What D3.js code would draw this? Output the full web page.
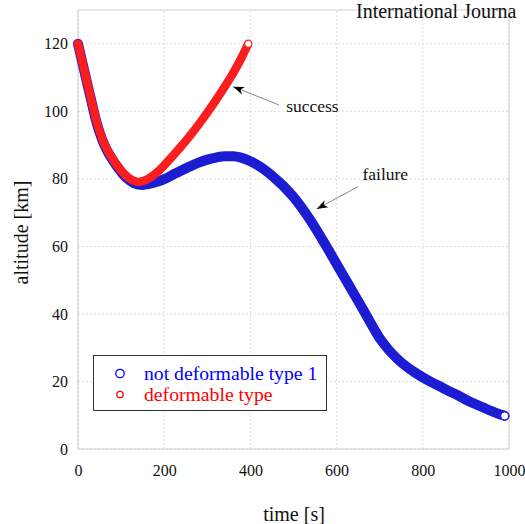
<!DOCTYPE html>
<html>
<head>
<meta charset="utf-8">
<script src="https://cdn.jsdelivr.net/npm/d3@7/dist/d3.min.js"></script>
<style>
  html, body { margin: 0; padding: 0; background: #fff; }
  svg { display: block; }
  text { font-family: "Liberation Serif", "Times New Roman", serif; fill: #111; }
</style>
</head>
<body>
<svg id="chart" width="525" height="524"></svg>
<script>
// ---- data ----
const timeBlue = [0,10,20,30,40,50,60,70,80,90,100,110,120,130,140,150,160,180,200,220,240,260,280,300,320,340,360,380,400,420,440,460,480,500,520,540,560,580,600,620,640,660,680,700,720,740,760,780,800,820,840,860,880,900,920,940,960,980,990];
const altBlue  = [120,114.5,109.0,103.6,98.2,93.8,90.4,87.8,85.7,83.8,82.1,80.6,79.5,78.7,78.3,78.2,78.4,79.0,79.9,81.2,82.5,83.7,84.8,85.7,86.3,86.7,86.7,86.2,85.2,83.8,82.0,79.8,77.4,74.6,71.3,67.6,63.5,59.2,54.8,50.4,46.0,41.6,37.1,32.8,29.5,26.8,24.6,22.8,21.2,19.8,18.5,17.2,16.0,14.6,13.4,12.3,11.2,10.2,9.8];

const timeRed = [0,10,20,30,40,50,60,70,80,90,100,110,120,130,140,150,160,170,180,190,200,220,240,260,280,300,320,340,360,380,395];
const altRed  = [120,114.6,109.2,103.8,98.5,94.1,90.7,88.1,86.0,84.1,82.5,81.1,80.1,79.4,79.1,79.3,79.8,80.6,81.6,82.7,84.0,86.8,89.7,92.8,96.1,99.6,103.3,107.2,111.3,116.0,120.0];

const seriesNames = ["not deformable type 1", "deformable type"];
const xTicks = [0,200,400,600,800,1000];
const yTicks = [0,20,40,60,80,100,120];

const annotations = [
  { label: "success", tip: [360, 107.3], tail: [466, 101.9], at: [483, 99.9] },
  { label: "failure", tip: [554, 71.1], tail: [650, 77.7], at: [660, 79.7] }
];

// ---- layout ----
const svg = d3.select("#chart");
const m = { left: 78, right: 509, top: 10, bottom: 449 };
const x = d3.scaleLinear().domain([0, 1000]).range([m.left, m.right]);
const y = d3.scaleLinear().domain([0, 130]).range([m.bottom, m.top]);

// grid
const grid = svg.append("g");
grid.selectAll("line.vx").data(xTicks).join("line")
  .attr("x1", d => x(d)).attr("x2", d => x(d))
  .attr("y1", y(0)).attr("y2", y(130))
  .attr("stroke", "#dcdcdc").attr("stroke-width", 1).attr("stroke-dasharray", "2,2");
grid.selectAll("line.hy").data(yTicks).join("line")
  .attr("x1", x(0)).attr("x2", x(1000))
  .attr("y1", d => y(d)).attr("y2", d => y(d))
  .attr("stroke", "#dcdcdc").attr("stroke-width", 1).attr("stroke-dasharray", "2,2");
// frame
svg.append("rect")
  .attr("x", x(0)).attr("y", y(130))
  .attr("width", x(1000) - x(0)).attr("height", y(0) - y(130))
  .attr("fill", "none").attr("stroke", "#d0d0d0").attr("stroke-width", 1);

// axes (labels only)
const xAxis = svg.append("g").attr("transform", `translate(0,${y(0)})`)
  .call(d3.axisBottom(x).tickValues(xTicks).tickSize(0).tickPadding(16).tickFormat(d3.format("d")));
const yAxis = svg.append("g").attr("transform", `translate(${x(0)},0)`)
  .call(d3.axisLeft(y).tickValues(yTicks).tickSize(0).tickPadding(10).tickFormat(d3.format("d")));
[xAxis, yAxis].forEach(a => {
  a.attr("font-family", "Liberation Serif, serif");
  a.select(".domain").remove();
  a.selectAll("text").attr("font-size", 16).attr("fill", "#111");
});
xAxis.selectAll("text").attr("dy", "0.71em");

// axis titles
svg.append("text").attr("x", 294).attr("y", 521).attr("text-anchor", "middle")
  .attr("font-size", 20).text("time [s]");
svg.append("text").attr("transform", `translate(28,${(y(0)+y(130))/2 + 3}) rotate(-90)`)
  .attr("text-anchor", "middle").attr("font-size", 20).text("altitude [km]");

// header text (as visible in the reference)
svg.append("text").attr("x", 356).attr("y", 18).attr("font-size", 20).text("International Journa");

// series
const blue = timeBlue.map((t, i) => ({ t, a: altBlue[i] }));
const red = timeRed.map((t, i) => ({ t, a: altRed[i] }));
const line = d3.line().x(d => x(d.t)).y(d => y(d.a)).curve(d3.curveMonotoneX);

function drawSeries(data, bandColor, markColor, bandWidth, r) {
  svg.append("path").datum(data).attr("d", line)
    .attr("fill", "none").attr("stroke", bandColor).attr("stroke-width", bandWidth)
    .attr("stroke-linecap", "round").attr("stroke-linejoin", "round");
  svg.append("g").selectAll("circle").data(data).join("circle")
    .attr("cx", d => x(d.t)).attr("cy", d => y(d.a)).attr("r", r)
    .attr("fill", (d, i) => i === data.length - 1 ? "#fff" : "none")
    .attr("stroke", markColor).attr("stroke-width", 1);
}
drawSeries(blue, "#1c1cd2", "#1c1cd2", 10, 4.0);
drawSeries(red, "#fa1e1e", "#fa1e1e", 8.5, 3.5);

// annotations
const defs = svg.append("defs");
defs.append("marker").attr("id", "arr").attr("markerUnits", "userSpaceOnUse")
  .attr("markerWidth", 14).attr("markerHeight", 10).attr("refX", 11).attr("refY", 5)
  .attr("orient", "auto")
  .append("path").attr("d", "M0,1 L11,5 L0,9 L3,5 Z").attr("fill", "#000");
annotations.forEach(a => {
  svg.append("line")
    .attr("x1", x(a.tail[0])).attr("y1", y(a.tail[1]))
    .attr("x2", x(a.tip[0])).attr("y2", y(a.tip[1]))
    .attr("stroke", "#777").attr("stroke-width", 0.9)
    .attr("marker-end", "url(#arr)");
  svg.append("text").attr("x", x(a.at[0])).attr("y", y(a.at[1]))
    .attr("font-size", 17.5).text(a.label);
});

// legend
const lg = svg.append("g");
lg.append("rect").attr("x", 93.5).attr("y", 355.5).attr("width", 233).attr("height", 55)
  .attr("fill", "#fff").attr("stroke", "#333").attr("stroke-width", 1);
const legendItems = [
  { name: seriesNames[0], color: "#0000ff", r: 4.2, cy: 373.5, ty: 380 },
  { name: seriesNames[1], color: "#ff0000", r: 3.2, cy: 394.5, ty: 400.5 }
];
legendItems.forEach(it => {
  lg.append("circle").attr("cx", 120).attr("cy", it.cy).attr("r", it.r)
    .attr("fill", "none").attr("stroke", it.color).attr("stroke-width", 1.3);
  lg.append("text").attr("x", 144).attr("y", it.ty).attr("font-size", 19.7)
    .style("fill", it.color).text(it.name);
});
</script>
</body>
</html>
